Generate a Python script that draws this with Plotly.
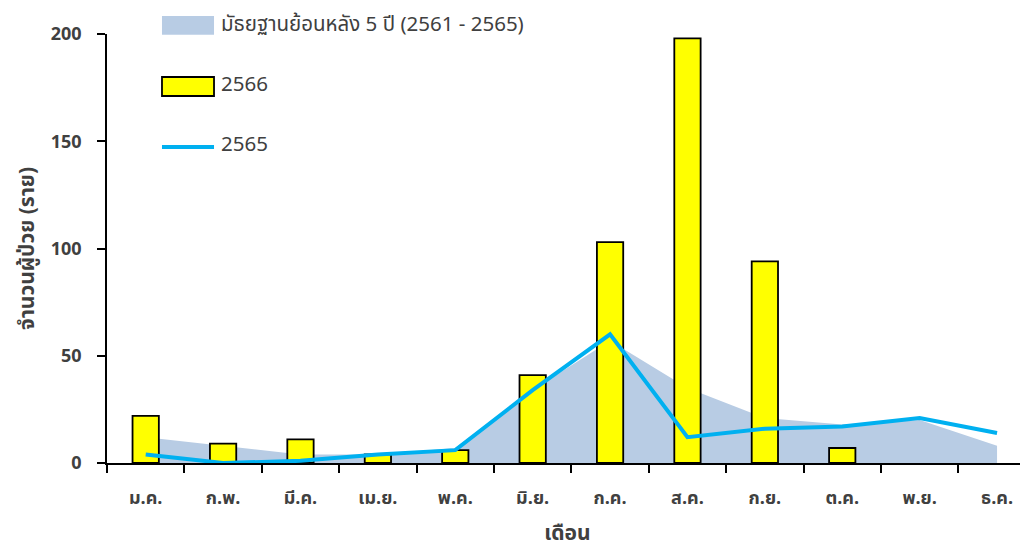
import plotly.graph_objects as go

months = ["ม.ค.", "ก.พ.", "มี.ค.", "เม.ย.", "พ.ค.", "มิ.ย.", "ก.ค.", "ส.ค.", "ก.ย.", "ต.ค.", "พ.ย.", "ธ.ค."]
median_5y = [12, 8, 4, 4, 7, 34, 57, 35, 21, 18, 20, 8]
cases_2566 = [22, 9, 11, 4, 6, 41, 103, 198, 94, 7, None, None]
cases_2565 = [4, 0, 1, 4, 6, 34, 60, 12, 16, 17, 21, 14]
name_median = "มัธยฐานย้อนหลัง 5 ปี (2561 - 2565)"
name_2566 = "2566"
name_2565 = "2565"

FONT = "Tahoma, 'Noto Sans Thai', 'Noto Sans', 'DejaVu Sans', sans-serif"
TXT = "#404040"
AREA = "#B8CCE4"
BAR = "#FFFF00"
LINE = "#00B0F0"

fig = go.Figure()
fig.add_trace(go.Scatter(
    x=months, y=median_5y, name=name_median,
    mode="lines", line=dict(width=0, color=AREA),
    fill="tozeroy", fillcolor=AREA, showlegend=False,
    xaxis="x", yaxis="y"))
fig.add_trace(go.Bar(
    x=months, y=cases_2566, name=name_2566, width=0.34,
    marker=dict(color=BAR, line=dict(color="black", width=1.8)),
    showlegend=False, xaxis="x", yaxis="y2"))
fig.add_trace(go.Scatter(
    x=months, y=cases_2565, name=name_2565, mode="lines",
    line=dict(color=LINE, width=4), showlegend=False,
    xaxis="x", yaxis="y2"))

# manual legend (paper coordinates)
shapes = [
    dict(type="rect", xref="paper", yref="paper", x0=0.0597, x1=0.1162, y0=0.998, y1=1.042,
         fillcolor=AREA, line=dict(width=0)),
    dict(type="rect", xref="paper", yref="paper", x0=0.0597, x1=0.1162, y0=0.8555, y1=0.8998,
         fillcolor=BAR, line=dict(color="black", width=1.8)),
    dict(type="line", xref="paper", yref="paper", x0=0.0597, x1=0.1162, y0=0.7366, y1=0.7366,
         line=dict(color=LINE, width=4)),
]
annotations = []
for txt, yy in [(name_median, 1.022), (name_2566, 0.8834), (name_2565, 0.7413)]:
    annotations.append(dict(text=txt, xref="paper", yref="paper", x=0.1219, y=yy,
                            xanchor="left", yanchor="middle", showarrow=False,
                            font=dict(size=20.5, color=TXT)))

fig.update_layout(
    width=1020, height=541,
    margin=dict(l=99, r=0, t=26, b=86),
    paper_bgcolor="white", plot_bgcolor="white",
    font=dict(family=FONT, color=TXT, size=17),
    showlegend=False,
    shapes=shapes, annotations=annotations,
    xaxis=dict(type="category", range=[-0.5, 11.4], showline=True, linecolor="black",
               linewidth=1.5, ticks="outside", tickson="boundaries", ticklen=8,
               tickcolor="black", tickwidth=1.5, ticklabelstandoff=18,
               tickfont=dict(size=18, color=TXT, weight="bold"),
               title=dict(text="<b>เดือน</b>", font=dict(size=21, color=TXT), standoff=22),
               showgrid=False, zeroline=False),
    yaxis=dict(range=[0, 200], tickvals=[0, 50, 100, 150, 200], showline=True,
               linecolor="black", linewidth=1.5, ticks="outside", ticklen=8,
               tickcolor="black", tickwidth=1.5, ticklabelstandoff=12,
               tickfont=dict(size=18, color=TXT, weight="bold"),
               title=dict(text="<b>จำนวนผู้ป่วย (ราย)</b>", font=dict(size=21, color=TXT), standoff=10),
               showgrid=False, zeroline=False),
    yaxis2=dict(range=[0, 200], overlaying="y", visible=False, showgrid=False, zeroline=False),
)

fig.write_html("out.html")
